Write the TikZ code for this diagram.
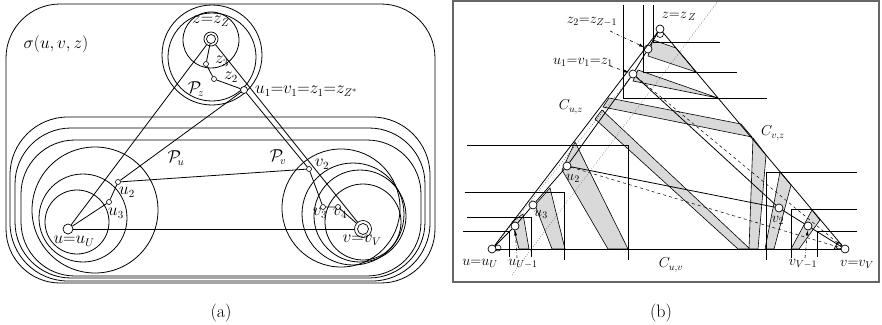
\documentclass[tikz,border=0pt]{standalone}
\usetikzlibrary{arrows.meta}
\begin{document}
\begin{tikzpicture}[x=1pt,y=-1pt,
  every node/.style={inner sep=0pt},
  ln/.style={line width=0.8pt},
  spt/.style={circle,draw,fill=white,line width=0.6pt,minimum size=5pt,inner sep=0pt},
  bpt/.style={circle,draw,fill=white,line width=0.7pt,minimum size=8pt,inner sep=0pt},
  lblA/.style={font=\fontsize{16}{19}\selectfont},
  lblB/.style={font=\fontsize{14}{17}\selectfont},
  band/.style={fill=black!15,draw,line width=0.6pt},
  dd/.style={dash dot,line width=0.6pt,-{Latex[length=5pt,width=3pt]}}]
\useasboundingbox (0,0) rectangle (882,324);

%================ panel (a) =================
\draw[ln,rounded corners=54pt] (6,4) rectangle (435,283);
\draw[ln,rounded corners=58pt] (10,117) rectangle (430,281);
\draw[ln,rounded corners=56pt] (15,128) rectangle (425,278);
\draw[ln,rounded corners=54pt] (21,140) rectangle (421,276);
% circles around u
\draw[ln] (77,222) circle[radius=32];
\draw[ln] (83,218) circle[radius=44];
\draw[ln] (95,210) circle[radius=63];
% circles around v
\draw[ln] (341,208) circle[radius=59];
\draw[ln] (353,214) circle[radius=51];
\draw[ln] (360,216) circle[radius=46];
\draw[ln] (363,222) circle[radius=38];
% circles around z
\draw[ln] (212,55) circle[radius=50];
\draw[ln] (212,57) circle[radius=44];
\draw[ln] (211,40) circle[radius=28];

% nodes
\node[circle,draw,line width=0.7pt,minimum size=14pt] (az) at (211,39) {};
\node[circle,draw,line width=0.7pt,minimum size=9pt] (azi) at (211,39) {};
\node[spt] (az3) at (206,64) {};
\node[spt] (az2) at (214,79) {};
\node[circle,draw,fill=white,line width=0.7pt,minimum size=7pt] (au1) at (244,90) {};
\node[spt] (au2) at (118,182) {};
\node[spt] (au3) at (109,202) {};
\node[circle,draw,fill=white,line width=0.7pt,minimum size=10pt] (au) at (68,229) {};
\node[spt] (av2) at (309,169) {};
\node[spt] (av3) at (323,207) {};
\node[spt] (av4) at (338,207) {};
\node[circle,draw,line width=0.7pt,minimum size=17pt] (av) at (363,229) {};
\node[circle,draw,fill=white,line width=0.7pt,minimum size=11pt] (avi) at (363,229) {};

% connectors
\draw[ln] (az) -- (au);
\draw[ln] (az) -- (av);
\draw[ln] (azi) -- (az3) -- (az2) -- (au1);
\draw[ln] (au1) -- (au2) -- (au3) -- (au);
\draw[ln] (au2) -- (av2);
\draw[ln] (au1) -- (av2) -- (av3) -- (av4) -- (av);
\draw[ln] (au) -- (av);

% labels
\node[lblA] (lsig) at (56,44) {$\sigma(u,v,z)$};
\node[lblA] (lzz) at (211,21) {$z{=}z_Z$};
\node[lblA] (lz3) at (222,61) {$z_3$};
\node[lblA] (lz2) at (231,77) {$z_2$};
\node[lblA] (lPz) at (196,89) {$\mathcal{P}_{\!z}$};
\node[lblA,anchor=west] (lu1) at (255,91) {$u_1{=}v_1{=}z_1{=}z_{Z^*}$};
\node[lblA] (lPu) at (176,158) {$\mathcal{P}_{\!u}$};
\node[lblA] (lPv) at (278,157) {$\mathcal{P}_{\!v}$};
\node[lblA] (lu2) at (127,192) {$u_2$};
\node[lblA] (lu3) at (116,213) {$u_3$};
\node[lblA] (lu) at (74,241) {$u{=}u_U$};
\node[lblA] (lv2) at (322,164) {$v_2$};
\node[lblA] (lv3) at (320,213) {$v_3$};
\node[lblA] (lv4) at (340,213) {$v_4$};
\node[lblA] (lv) at (362,240) {$v{=}v_V$};
\node[font=\fontsize{18}{20}\selectfont] (capa) at (221,313) {(a)};

%================ panel (b) =================
\draw[line width=1.2pt,black!60] (453,1) rectangle (879,282);
% bands
\draw[band] (653,40) -- (676,48) -- (696,72) -- (648,56) -- cycle;
\draw[band] (638,70) -- (718,98) -- (633,81) -- cycle;
\draw[band] (609,98) -- (741,124) -- (752,137) -- (603,107) -- cycle;
\draw[band] (602,110) -- (750,249) -- (738,249) -- (595,119) -- cycle;
\draw[band] (575,142) -- (628,249) -- (608,249) -- (562,170) -- cycle;
\draw[band] (550,188) -- (565,249) -- (552,249) -- (535,205) -- cycle;
\draw[band] (523,214) -- (529,249) -- (519,249) -- (512,222) -- cycle;
\draw[band] (753,138) -- (766,155) -- (758,249) -- (749,249) -- cycle;
\draw[band] (780,172) -- (791,185) -- (774,249) -- (765,249) -- cycle;
\draw[band] (812,210) -- (820,220) -- (799,249) -- (791,249) -- cycle;
\draw[band] (834,249) -- (838,242) -- (842,249) -- cycle;
% step lines
\draw[ln] (623,5) -- (623,98) -- (767,98);
\draw[ln] (643,5) -- (643,72) -- (737,72);
\draw[ln] (653,5) -- (653,42) -- (720,42);
\draw[ln] (467,145) -- (628,145) -- (628,260);
\draw[ln] (465,192) -- (564,192) -- (564,260);
\draw[ln] (467,217) -- (531,217) -- (531,257);
\draw[ln] (463,231) -- (509,231) -- (509,257);
\draw[ln] (857,172) -- (766,172) -- (766,260);
\draw[ln] (857,209) -- (791,209) -- (791,258);
\draw[ln] (857,231) -- (817,231) -- (817,257);
% dotted guide
\coordinate (dg1) at (512,275);
\coordinate (dg2) at (718,1);
\draw[dotted,line width=0.5pt] (dg1) -- (dg2);

% nodes
\node[circle,draw,fill=white,line width=0.6pt,minimum size=7pt] (bzx) at (660,34) {};
\node[circle,draw,fill=white,line width=0.6pt,minimum size=6pt] (bux) at (498,248) {};
\node[circle,draw,fill=white,line width=0.6pt,minimum size=6pt] (bvx) at (839,246) {};
\node[bpt] (bz) at (660,29) {};
\node[bpt] (bz2) at (648,49) {};
\node[bpt] (bu1) at (633,74) {};
\node[bpt] (bu2) at (567,166) {};
\node[bpt] (bu3) at (533,205) {};
\node[bpt] (buU) at (515,226) {};
\node[bpt] (bu) at (492,249) {};
\node[bpt] (bv) at (845,249) {};
\node[bpt] (bv2) at (779,208) {};
\node[bpt] (bvV) at (808,226) {};

% connectors
\draw[ln] (bz) -- (bu);
\draw[ln] (bz) -- (bv);
\draw[ln] (bu) -- (bv);
\draw[ln] (bz) -- (bz2) -- (bu1);
\draw[ln] (bu1) -- (bu2) -- (bu3) -- (buU) -- (bu);
\draw[dotted,line width=0.5pt] (bu1) -- (bu);
\draw[ln] (bu1) -- (bv2) -- (bvV) -- (bv);
\draw[ln] (bu2) -- (bv2);
\draw[dashed,line width=0.5pt] (bu1) -- (bv);
\draw[dashed,line width=0.5pt] (bu2) -- (bv);

% labels
\node[lblB] (lbz) at (679,16) {$z{=}z_{\,Z}$};
\node[lblB] (lbz2) at (592,22) {$z_2{=}z_{Z-1}$};
\node[lblB] (lbu1) at (583,62) {$u_1{=}v_1{=}z_1$};
\node[lblB] (lcuz) at (571,107) {$C_{u,z}$};
\node[lblB] (lcvz) at (773,133) {$C_{v,z}$};
\node[lblB] (lcuv) at (671,265) {$C_{u,v}$};
\node[lblB] (lbu) at (480,263) {$u{=}u_U$};
\node[lblB] (lbuU) at (523,264) {$u_{U-1}$};
\node[lblB] (lbu3) at (541,214) {$u_3$};
\node[lblB] (lbu2) at (573,178) {$u_2$};
\node[lblB] (lbv2) at (778,220) {$v_2$};
\node[lblB] (lbvV) at (803,264) {$v_{V-1}$};
\node[lblB] (lbv) at (857,264) {$v{=}v_V$};
% dash-dot pointers
\coordinate (p1) at (610,31);
\coordinate (p2) at (610,66);
\coordinate (p3) at (517,258);
\coordinate (p4) at (805,258);
\draw[dd] (p1) -- (bz2);
\draw[dd] (p2) -- (bu1);
\draw[dd] (p3) -- (buU);
\draw[dd] (p4) -- (bvV);
\node[font=\fontsize{18}{20}\selectfont] (capb) at (661,313) {(b)};
\end{tikzpicture}
\end{document}
